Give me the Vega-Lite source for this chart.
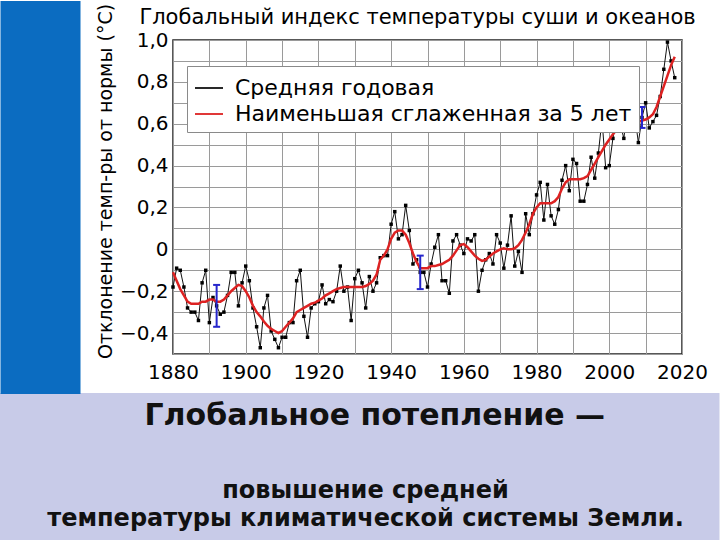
{
  "$schema": "https://vega.github.io/schema/vega-lite/v6.json",
  "width": 509,
  "height": 314,
  "autosize": {"type": "none"},
  "padding": {"left": 173, "top": 40, "right": 38, "bottom": 186},
  "background": "white",
  "config": {
    "font": "DejaVu Sans",
    "view": {"stroke": "#222222", "strokeWidth": 1.5},
    "axis": {"labelFont": "DejaVu Sans", "titleFont": "DejaVu Sans", "labelColor": "black", "titleColor": "black", "titleFontWeight": "normal"}
  },
  "datasets": {
    "annual": [
      {"year":1880,"value":-0.18,"series":"Средняя годовая"},{"year":1881,"value":-0.09,"series":"Средняя годовая"},{"year":1882,"value":-0.10,"series":"Средняя годовая"},{"year":1883,"value":-0.18,"series":"Средняя годовая"},{"year":1884,"value":-0.28,"series":"Средняя годовая"},{"year":1885,"value":-0.30,"series":"Средняя годовая"},{"year":1886,"value":-0.30,"series":"Средняя годовая"},{"year":1887,"value":-0.34,"series":"Средняя годовая"},{"year":1888,"value":-0.16,"series":"Средняя годовая"},{"year":1889,"value":-0.10,"series":"Средняя годовая"},
      {"year":1890,"value":-0.35,"series":"Средняя годовая"},{"year":1891,"value":-0.23,"series":"Средняя годовая"},{"year":1892,"value":-0.27,"series":"Средняя годовая"},{"year":1893,"value":-0.31,"series":"Средняя годовая"},{"year":1894,"value":-0.30,"series":"Средняя годовая"},{"year":1895,"value":-0.22,"series":"Средняя годовая"},{"year":1896,"value":-0.11,"series":"Средняя годовая"},{"year":1897,"value":-0.11,"series":"Средняя годовая"},{"year":1898,"value":-0.27,"series":"Средняя годовая"},{"year":1899,"value":-0.16,"series":"Средняя годовая"},
      {"year":1900,"value":-0.08,"series":"Средняя годовая"},{"year":1901,"value":-0.15,"series":"Средняя годовая"},{"year":1902,"value":-0.28,"series":"Средняя годовая"},{"year":1903,"value":-0.37,"series":"Средняя годовая"},{"year":1904,"value":-0.47,"series":"Средняя годовая"},{"year":1905,"value":-0.28,"series":"Средняя годовая"},{"year":1906,"value":-0.22,"series":"Средняя годовая"},{"year":1907,"value":-0.39,"series":"Средняя годовая"},{"year":1908,"value":-0.43,"series":"Средняя годовая"},{"year":1909,"value":-0.47,"series":"Средняя годовая"},
      {"year":1910,"value":-0.42,"series":"Средняя годовая"},{"year":1911,"value":-0.42,"series":"Средняя годовая"},{"year":1912,"value":-0.35,"series":"Средняя годовая"},{"year":1913,"value":-0.35,"series":"Средняя годовая"},{"year":1914,"value":-0.15,"series":"Средняя годовая"},{"year":1915,"value":-0.10,"series":"Средняя годовая"},{"year":1916,"value":-0.32,"series":"Средняя годовая"},{"year":1917,"value":-0.42,"series":"Средняя годовая"},{"year":1918,"value":-0.28,"series":"Средняя годовая"},{"year":1919,"value":-0.26,"series":"Средняя годовая"},
      {"year":1920,"value":-0.25,"series":"Средняя годовая"},{"year":1921,"value":-0.17,"series":"Средняя годовая"},{"year":1922,"value":-0.26,"series":"Средняя годовая"},{"year":1923,"value":-0.24,"series":"Средняя годовая"},{"year":1924,"value":-0.25,"series":"Средняя годовая"},{"year":1925,"value":-0.20,"series":"Средняя годовая"},{"year":1926,"value":-0.08,"series":"Средняя годовая"},{"year":1927,"value":-0.20,"series":"Средняя годовая"},{"year":1928,"value":-0.18,"series":"Средняя годовая"},{"year":1929,"value":-0.34,"series":"Средняя годовая"},
      {"year":1930,"value":-0.14,"series":"Средняя годовая"},{"year":1931,"value":-0.10,"series":"Средняя годовая"},{"year":1932,"value":-0.16,"series":"Средняя годовая"},{"year":1933,"value":-0.28,"series":"Средняя годовая"},{"year":1934,"value":-0.13,"series":"Средняя годовая"},{"year":1935,"value":-0.20,"series":"Средняя годовая"},{"year":1936,"value":-0.16,"series":"Средняя годовая"},{"year":1937,"value":-0.04,"series":"Средняя годовая"},{"year":1938,"value":-0.03,"series":"Средняя годовая"},{"year":1939,"value":-0.03,"series":"Средняя годовая"},
      {"year":1940,"value":0.12,"series":"Средняя годовая"},{"year":1941,"value":0.18,"series":"Средняя годовая"},{"year":1942,"value":0.05,"series":"Средняя годовая"},{"year":1943,"value":0.07,"series":"Средняя годовая"},{"year":1944,"value":0.21,"series":"Средняя годовая"},{"year":1945,"value":0.09,"series":"Средняя годовая"},{"year":1946,"value":-0.07,"series":"Средняя годовая"},{"year":1947,"value":-0.05,"series":"Средняя годовая"},{"year":1948,"value":-0.11,"series":"Средняя годовая"},{"year":1949,"value":-0.11,"series":"Средняя годовая"},
      {"year":1950,"value":-0.18,"series":"Средняя годовая"},{"year":1951,"value":-0.07,"series":"Средняя годовая"},{"year":1952,"value":0.01,"series":"Средняя годовая"},{"year":1953,"value":0.07,"series":"Средняя годовая"},{"year":1954,"value":-0.15,"series":"Средняя годовая"},{"year":1955,"value":-0.15,"series":"Средняя годовая"},{"year":1956,"value":-0.21,"series":"Средняя годовая"},{"year":1957,"value":0.04,"series":"Средняя годовая"},{"year":1958,"value":0.07,"series":"Средняя годовая"},{"year":1959,"value":0.02,"series":"Средняя годовая"},
      {"year":1960,"value":-0.02,"series":"Средняя годовая"},{"year":1961,"value":0.05,"series":"Средняя годовая"},{"year":1962,"value":0.04,"series":"Средняя годовая"},{"year":1963,"value":0.07,"series":"Средняя годовая"},{"year":1964,"value":-0.20,"series":"Средняя годовая"},{"year":1965,"value":-0.10,"series":"Средняя годовая"},{"year":1966,"value":-0.05,"series":"Средняя годовая"},{"year":1967,"value":-0.02,"series":"Средняя годовая"},{"year":1968,"value":-0.07,"series":"Средняя годовая"},{"year":1969,"value":0.07,"series":"Средняя годовая"},
      {"year":1970,"value":0.03,"series":"Средняя годовая"},{"year":1971,"value":-0.09,"series":"Средняя годовая"},{"year":1972,"value":0.02,"series":"Средняя годовая"},{"year":1973,"value":0.16,"series":"Средняя годовая"},{"year":1974,"value":-0.08,"series":"Средняя годовая"},{"year":1975,"value":-0.01,"series":"Средняя годовая"},{"year":1976,"value":-0.11,"series":"Средняя годовая"},{"year":1977,"value":0.17,"series":"Средняя годовая"},{"year":1978,"value":0.07,"series":"Средняя годовая"},{"year":1979,"value":0.17,"series":"Средняя годовая"},
      {"year":1980,"value":0.26,"series":"Средняя годовая"},{"year":1981,"value":0.32,"series":"Средняя годовая"},{"year":1982,"value":0.14,"series":"Средняя годовая"},{"year":1983,"value":0.31,"series":"Средняя годовая"},{"year":1984,"value":0.16,"series":"Средняя годовая"},{"year":1985,"value":0.12,"series":"Средняя годовая"},{"year":1986,"value":0.19,"series":"Средняя годовая"},{"year":1987,"value":0.33,"series":"Средняя годовая"},{"year":1988,"value":0.40,"series":"Средняя годовая"},{"year":1989,"value":0.28,"series":"Средняя годовая"},
      {"year":1990,"value":0.43,"series":"Средняя годовая"},{"year":1991,"value":0.41,"series":"Средняя годовая"},{"year":1992,"value":0.23,"series":"Средняя годовая"},{"year":1993,"value":0.23,"series":"Средняя годовая"},{"year":1994,"value":0.31,"series":"Средняя годовая"},{"year":1995,"value":0.44,"series":"Средняя годовая"},{"year":1996,"value":0.34,"series":"Средняя годовая"},{"year":1997,"value":0.46,"series":"Средняя годовая"},{"year":1998,"value":0.62,"series":"Средняя годовая"},{"year":1999,"value":0.39,"series":"Средняя годовая"},
      {"year":2000,"value":0.40,"series":"Средняя годовая"},{"year":2001,"value":0.53,"series":"Средняя годовая"},{"year":2002,"value":0.62,"series":"Средняя годовая"},{"year":2003,"value":0.60,"series":"Средняя годовая"},{"year":2004,"value":0.53,"series":"Средняя годовая"},{"year":2005,"value":0.67,"series":"Средняя годовая"},{"year":2006,"value":0.63,"series":"Средняя годовая"},{"year":2007,"value":0.64,"series":"Средняя годовая"},{"year":2008,"value":0.51,"series":"Средняя годовая"},{"year":2009,"value":0.63,"series":"Средняя годовая"},
      {"year":2010,"value":0.70,"series":"Средняя годовая"},{"year":2011,"value":0.58,"series":"Средняя годовая"},{"year":2012,"value":0.61,"series":"Средняя годовая"},{"year":2013,"value":0.64,"series":"Средняя годовая"},{"year":2014,"value":0.73,"series":"Средняя годовая"},{"year":2015,"value":0.86,"series":"Средняя годовая"},{"year":2016,"value":0.99,"series":"Средняя годовая"},{"year":2017,"value":0.90,"series":"Средняя годовая"},{"year":2018,"value":0.82,"series":"Средняя годовая"}
    ],
    "smooth": [
      {"year":1880,"value":-0.11,"series":"Наименьшая сглаженная за 5 лет"},{"year":1881,"value":-0.15,"series":"Наименьшая сглаженная за 5 лет"},{"year":1882,"value":-0.19,"series":"Наименьшая сглаженная за 5 лет"},{"year":1883,"value":-0.22,"series":"Наименьшая сглаженная за 5 лет"},{"year":1884,"value":-0.25,"series":"Наименьшая сглаженная за 5 лет"},{"year":1885,"value":-0.26,"series":"Наименьшая сглаженная за 5 лет"},{"year":1886,"value":-0.26,"series":"Наименьшая сглаженная за 5 лет"},{"year":1887,"value":-0.26,"series":"Наименьшая сглаженная за 5 лет"},{"year":1888,"value":-0.25,"series":"Наименьшая сглаженная за 5 лет"},{"year":1889,"value":-0.25,"series":"Наименьшая сглаженная за 5 лет"},
      {"year":1890,"value":-0.24,"series":"Наименьшая сглаженная за 5 лет"},{"year":1891,"value":-0.24,"series":"Наименьшая сглаженная за 5 лет"},{"year":1892,"value":-0.25,"series":"Наименьшая сглаженная за 5 лет"},{"year":1893,"value":-0.25,"series":"Наименьшая сглаженная за 5 лет"},{"year":1894,"value":-0.24,"series":"Наименьшая сглаженная за 5 лет"},{"year":1895,"value":-0.22,"series":"Наименьшая сглаженная за 5 лет"},{"year":1896,"value":-0.20,"series":"Наименьшая сглаженная за 5 лет"},{"year":1897,"value":-0.185,"series":"Наименьшая сглаженная за 5 лет"},{"year":1898,"value":-0.17,"series":"Наименьшая сглаженная за 5 лет"},{"year":1899,"value":-0.175,"series":"Наименьшая сглаженная за 5 лет"},
      {"year":1900,"value":-0.20,"series":"Наименьшая сглаженная за 5 лет"},{"year":1901,"value":-0.23,"series":"Наименьшая сглаженная за 5 лет"},{"year":1902,"value":-0.27,"series":"Наименьшая сглаженная за 5 лет"},{"year":1903,"value":-0.30,"series":"Наименьшая сглаженная за 5 лет"},{"year":1904,"value":-0.32,"series":"Наименьшая сглаженная за 5 лет"},{"year":1905,"value":-0.345,"series":"Наименьшая сглаженная за 5 лет"},{"year":1906,"value":-0.365,"series":"Наименьшая сглаженная за 5 лет"},{"year":1907,"value":-0.38,"series":"Наименьшая сглаженная за 5 лет"},{"year":1908,"value":-0.39,"series":"Наименьшая сглаженная за 5 лет"},{"year":1909,"value":-0.40,"series":"Наименьшая сглаженная за 5 лет"},
      {"year":1910,"value":-0.39,"series":"Наименьшая сглаженная за 5 лет"},{"year":1911,"value":-0.37,"series":"Наименьшая сглаженная за 5 лет"},{"year":1912,"value":-0.35,"series":"Наименьшая сглаженная за 5 лет"},{"year":1913,"value":-0.33,"series":"Наименьшая сглаженная за 5 лет"},{"year":1914,"value":-0.30,"series":"Наименьшая сглаженная за 5 лет"},{"year":1915,"value":-0.29,"series":"Наименьшая сглаженная за 5 лет"},{"year":1916,"value":-0.28,"series":"Наименьшая сглаженная за 5 лет"},{"year":1917,"value":-0.27,"series":"Наименьшая сглаженная за 5 лет"},{"year":1918,"value":-0.26,"series":"Наименьшая сглаженная за 5 лет"},{"year":1919,"value":-0.255,"series":"Наименьшая сглаженная за 5 лет"},
      {"year":1920,"value":-0.245,"series":"Наименьшая сглаженная за 5 лет"},{"year":1921,"value":-0.235,"series":"Наименьшая сглаженная за 5 лет"},{"year":1922,"value":-0.22,"series":"Наименьшая сглаженная за 5 лет"},{"year":1923,"value":-0.21,"series":"Наименьшая сглаженная за 5 лет"},{"year":1924,"value":-0.20,"series":"Наименьшая сглаженная за 5 лет"},{"year":1925,"value":-0.19,"series":"Наименьшая сглаженная за 5 лет"},{"year":1926,"value":-0.185,"series":"Наименьшая сглаженная за 5 лет"},{"year":1927,"value":-0.18,"series":"Наименьшая сглаженная за 5 лет"},{"year":1928,"value":-0.18,"series":"Наименьшая сглаженная за 5 лет"},{"year":1929,"value":-0.18,"series":"Наименьшая сглаженная за 5 лет"},
      {"year":1930,"value":-0.18,"series":"Наименьшая сглаженная за 5 лет"},{"year":1931,"value":-0.18,"series":"Наименьшая сглаженная за 5 лет"},{"year":1932,"value":-0.18,"series":"Наименьшая сглаженная за 5 лет"},{"year":1933,"value":-0.175,"series":"Наименьшая сглаженная за 5 лет"},{"year":1934,"value":-0.165,"series":"Наименьшая сглаженная за 5 лет"},{"year":1935,"value":-0.15,"series":"Наименьшая сглаженная за 5 лет"},{"year":1936,"value":-0.12,"series":"Наименьшая сглаженная за 5 лет"},{"year":1937,"value":-0.05,"series":"Наименьшая сглаженная за 5 лет"},{"year":1938,"value":-0.03,"series":"Наименьшая сглаженная за 5 лет"},{"year":1939,"value":0.0,"series":"Наименьшая сглаженная за 5 лет"},
      {"year":1940,"value":0.05,"series":"Наименьшая сглаженная за 5 лет"},{"year":1941,"value":0.08,"series":"Наименьшая сглаженная за 5 лет"},{"year":1942,"value":0.09,"series":"Наименьшая сглаженная за 5 лет"},{"year":1943,"value":0.09,"series":"Наименьшая сглаженная за 5 лет"},{"year":1944,"value":0.07,"series":"Наименьшая сглаженная за 5 лет"},{"year":1945,"value":0.03,"series":"Наименьшая сглаженная за 5 лет"},{"year":1946,"value":-0.02,"series":"Наименьшая сглаженная за 5 лет"},{"year":1947,"value":-0.06,"series":"Наименьшая сглаженная за 5 лет"},{"year":1948,"value":-0.09,"series":"Наименьшая сглаженная за 5 лет"},{"year":1949,"value":-0.09,"series":"Наименьшая сглаженная за 5 лет"},
      {"year":1950,"value":-0.09,"series":"Наименьшая сглаженная за 5 лет"},{"year":1951,"value":-0.08,"series":"Наименьшая сглаженная за 5 лет"},{"year":1952,"value":-0.08,"series":"Наименьшая сглаженная за 5 лет"},{"year":1953,"value":-0.075,"series":"Наименьшая сглаженная за 5 лет"},{"year":1954,"value":-0.07,"series":"Наименьшая сглаженная за 5 лет"},{"year":1955,"value":-0.06,"series":"Наименьшая сглаженная за 5 лет"},{"year":1956,"value":-0.05,"series":"Наименьшая сглаженная за 5 лет"},{"year":1957,"value":-0.03,"series":"Наименьшая сглаженная за 5 лет"},{"year":1958,"value":-0.005,"series":"Наименьшая сглаженная за 5 лет"},{"year":1959,"value":0.02,"series":"Наименьшая сглаженная за 5 лет"},
      {"year":1960,"value":0.025,"series":"Наименьшая сглаженная за 5 лет"},{"year":1961,"value":0.01,"series":"Наименьшая сглаженная за 5 лет"},{"year":1962,"value":-0.01,"series":"Наименьшая сглаженная за 5 лет"},{"year":1963,"value":-0.03,"series":"Наименьшая сглаженная за 5 лет"},{"year":1964,"value":-0.045,"series":"Наименьшая сглаженная за 5 лет"},{"year":1965,"value":-0.055,"series":"Наименьшая сглаженная за 5 лет"},{"year":1966,"value":-0.05,"series":"Наименьшая сглаженная за 5 лет"},{"year":1967,"value":-0.035,"series":"Наименьшая сглаженная за 5 лет"},{"year":1968,"value":-0.02,"series":"Наименьшая сглаженная за 5 лет"},{"year":1969,"value":-0.01,"series":"Наименьшая сглаженная за 5 лет"},
      {"year":1970,"value":0.0,"series":"Наименьшая сглаженная за 5 лет"},{"year":1971,"value":0.005,"series":"Наименьшая сглаженная за 5 лет"},{"year":1972,"value":0.0,"series":"Наименьшая сглаженная за 5 лет"},{"year":1973,"value":0.0,"series":"Наименьшая сглаженная за 5 лет"},{"year":1974,"value":0.005,"series":"Наименьшая сглаженная за 5 лет"},{"year":1975,"value":0.02,"series":"Наименьшая сглаженная за 5 лет"},{"year":1976,"value":0.045,"series":"Наименьшая сглаженная за 5 лет"},{"year":1977,"value":0.08,"series":"Наименьшая сглаженная за 5 лет"},{"year":1978,"value":0.12,"series":"Наименьшая сглаженная за 5 лет"},{"year":1979,"value":0.17,"series":"Наименьшая сглаженная за 5 лет"},
      {"year":1980,"value":0.20,"series":"Наименьшая сглаженная за 5 лет"},{"year":1981,"value":0.22,"series":"Наименьшая сглаженная за 5 лет"},{"year":1982,"value":0.22,"series":"Наименьшая сглаженная за 5 лет"},{"year":1983,"value":0.22,"series":"Наименьшая сглаженная за 5 лет"},{"year":1984,"value":0.22,"series":"Наименьшая сглаженная за 5 лет"},{"year":1985,"value":0.23,"series":"Наименьшая сглаженная за 5 лет"},{"year":1986,"value":0.25,"series":"Наименьшая сглаженная за 5 лет"},{"year":1987,"value":0.29,"series":"Наименьшая сглаженная за 5 лет"},{"year":1988,"value":0.32,"series":"Наименьшая сглаженная за 5 лет"},{"year":1989,"value":0.335,"series":"Наименьшая сглаженная за 5 лет"},
      {"year":1990,"value":0.335,"series":"Наименьшая сглаженная за 5 лет"},{"year":1991,"value":0.335,"series":"Наименьшая сглаженная за 5 лет"},{"year":1992,"value":0.335,"series":"Наименьшая сглаженная за 5 лет"},{"year":1993,"value":0.34,"series":"Наименьшая сглаженная за 5 лет"},{"year":1994,"value":0.35,"series":"Наименьшая сглаженная за 5 лет"},{"year":1995,"value":0.38,"series":"Наименьшая сглаженная за 5 лет"},{"year":1996,"value":0.41,"series":"Наименьшая сглаженная за 5 лет"},{"year":1997,"value":0.44,"series":"Наименьшая сглаженная за 5 лет"},{"year":1998,"value":0.47,"series":"Наименьшая сглаженная за 5 лет"},{"year":1999,"value":0.50,"series":"Наименьшая сглаженная за 5 лет"},
      {"year":2000,"value":0.525,"series":"Наименьшая сглаженная за 5 лет"},{"year":2001,"value":0.55,"series":"Наименьшая сглаженная за 5 лет"},{"year":2002,"value":0.57,"series":"Наименьшая сглаженная за 5 лет"},{"year":2003,"value":0.59,"series":"Наименьшая сглаженная за 5 лет"},{"year":2004,"value":0.60,"series":"Наименьшая сглаженная за 5 лет"},{"year":2005,"value":0.60,"series":"Наименьшая сглаженная за 5 лет"},{"year":2006,"value":0.60,"series":"Наименьшая сглаженная за 5 лет"},{"year":2007,"value":0.605,"series":"Наименьшая сглаженная за 5 лет"},{"year":2008,"value":0.61,"series":"Наименьшая сглаженная за 5 лет"},{"year":2009,"value":0.615,"series":"Наименьшая сглаженная за 5 лет"},
      {"year":2010,"value":0.62,"series":"Наименьшая сглаженная за 5 лет"},{"year":2011,"value":0.63,"series":"Наименьшая сглаженная за 5 лет"},{"year":2012,"value":0.645,"series":"Наименьшая сглаженная за 5 лет"},{"year":2013,"value":0.68,"series":"Наименьшая сглаженная за 5 лет"},{"year":2014,"value":0.73,"series":"Наименьшая сглаженная за 5 лет"},{"year":2015,"value":0.78,"series":"Наименьшая сглаженная за 5 лет"},{"year":2016,"value":0.83,"series":"Наименьшая сглаженная за 5 лет"},{"year":2017,"value":0.88,"series":"Наименьшая сглаженная за 5 лет"},{"year":2018,"value":0.92,"series":"Наименьшая сглаженная за 5 лет"}
    ],
    "uncertainty": [
      {"year":1892,"lo":-0.37,"hi":-0.17},
      {"year":1948,"lo":-0.19,"hi":-0.03},
      {"year":2009,"lo":0.58,"hi":0.68}
    ]
  },
  "layer": [
    {
      "data": {"name": "annual"},
      "mark": {"type": "line", "strokeWidth": 1},
      "encoding": {
        "x": {"field": "year", "type": "quantitative",
          "scale": {"domain": [1880, 2020], "nice": false, "zero": false},
          "axis": {"orient": "bottom", "values": [1880,1890,1900,1910,1920,1930,1940,1950,1960,1970,1980,1990,2000,2010,2020],
            "format": "d", "labelExpr": "datum.value % 20 == 0 ? datum.label : ''",
            "grid": true, "gridColor": "#9a9a9a", "gridWidth": 1, "gridOpacity": 1,
            "ticks": false, "domain": false, "labelFontSize": 20, "labelPadding": 8,
            "labelFlush": false, "labelOverlap": false, "title": null}},
        "y": {"field": "value", "type": "quantitative",
          "scale": {"domain": [-0.5, 1.0], "nice": false, "zero": false},
          "axis": {"orient": "left", "values": [-0.5,-0.4,-0.3,-0.2,-0.1,0,0.1,0.2,0.3,0.4,0.5,0.6,0.7,0.8,0.9,1.0],
            "format": ".1f",
            "labelExpr": "abs(round(datum.value*10)) % 2 == 1 ? '' : (abs(datum.value) < 0.001 ? '0' : replace(datum.label, '.', ','))",
            "grid": true, "gridColor": "#9a9a9a", "gridWidth": 1, "gridOpacity": 1,
            "ticks": false, "domain": false, "labelFontSize": 20, "labelPadding": 5,
            "labelFlush": false, "labelOverlap": false, "labelBound": false,
            "title": "Отклонение темп-ры от нормы (°C)", "titleFontSize": 19,
            "titleAngle": -90, "titleX": -68, "titleY": 141, "titleAlign": "center", "titleBaseline": "middle"}},
        "color": {"field": "series", "type": "nominal",
          "scale": {"domain": ["Средняя годовая", "Наименьшая сглаженная за 5 лет"], "range": ["#111111", "#dd2222"]},
          "legend": {"orient": "none", "legendX": 14, "legendY": 26, "title": null,
            "fillColor": "white", "strokeColor": "#8a8a8a", "padding": 7,
            "labelFont": "DejaVu Sans", "labelFontSize": 22, "labelColor": "black", "labelLimit": 600,
            "symbolType": "stroke", "symbolSize": 784, "symbolStrokeWidth": 1.8, "rowPadding": -4, "labelOffset": 11}}
      }
    },
    {
      "data": {"name": "annual"},
      "mark": {"type": "square", "size": 12, "color": "black", "opacity": 1},
      "encoding": {
        "x": {"field": "year", "type": "quantitative", "scale": {"domain": [1880, 2020], "nice": false, "zero": false}, "axis": null},
        "y": {"field": "value", "type": "quantitative", "scale": {"domain": [-0.5, 1.0], "nice": false, "zero": false},
          "axis": {"orient": "right", "offset": 37, "values": [-0.5], "tickOffset": 112.2,
            "ticks": true, "tickSize": -720, "tickWidth": 147, "tickColor": "#c8cbe8", "tickOpacity": 1,
            "labels": false, "domain": false, "grid": false,
            "title": ["повышение средней", "температуры климатической системы Земли."],
            "titleAngle": 0, "titleX": -354, "titleY": 457, "titleAlign": "center", "titleBaseline": "alphabetic",
            "titleFont": "DejaVu Sans", "titleFontSize": 24, "titleFontWeight": "bold", "titleLineHeight": 28, "titleColor": "#111111"}}
      }
    },
    {
      "data": {"name": "smooth"},
      "mark": {"type": "line", "strokeWidth": 2.5},
      "encoding": {
        "x": {"field": "year", "type": "quantitative", "scale": {"domain": [1880, 2020], "nice": false, "zero": false},
          "axis": {"orient": "top", "labels": false, "ticks": false, "domain": false, "grid": false,
            "title": "Глобальный индекс температуры суши и океанов", "titleFontSize": 21,
            "titleX": 244, "titleY": -22.5, "titleAlign": "center", "titleBaseline": "middle"}},
        "y": {"field": "value", "type": "quantitative", "scale": {"domain": [-0.5, 1.0], "nice": false, "zero": false},
          "axis": {"orient": "left", "offset": 93, "values": [0.2512],
            "ticks": true, "tickSize": 80, "tickWidth": 393, "tickColor": "#0b6cc1", "tickOpacity": 1,
            "labels": false, "domain": false, "grid": false,
            "title": "Глобальное потепление —", "titleAngle": 0, "titleX": 64, "titleY": 375,
            "titleAlign": "left", "titleBaseline": "middle",
            "titleFont": "DejaVu Sans", "titleFontSize": 30, "titleFontWeight": "bold", "titleColor": "#111111"}},
        "color": {"field": "series", "type": "nominal",
          "scale": {"domain": ["Средняя годовая", "Наименьшая сглаженная за 5 лет"], "range": ["#111111", "#dd2222"]}}
      }
    },
    {
      "data": {"name": "uncertainty"},
      "mark": {"type": "rule", "color": "#2626cc", "strokeWidth": 2},
      "encoding": {
        "x": {"field": "year", "type": "quantitative", "scale": {"domain": [1880, 2020], "nice": false, "zero": false}, "axis": null},
        "y": {"field": "lo", "type": "quantitative", "scale": {"domain": [-0.5, 1.0], "nice": false, "zero": false}, "axis": null},
        "y2": {"field": "hi"}
      }
    },
    {
      "data": {"name": "uncertainty"},
      "mark": {"type": "tick", "orient": "horizontal", "color": "#2626cc", "size": 7, "thickness": 2, "opacity": 1},
      "encoding": {
        "x": {"field": "year", "type": "quantitative", "scale": {"domain": [1880, 2020], "nice": false, "zero": false}, "axis": null},
        "y": {"field": "lo", "type": "quantitative", "scale": {"domain": [-0.5, 1.0], "nice": false, "zero": false}, "axis": null}
      }
    },
    {
      "data": {"name": "uncertainty"},
      "mark": {"type": "tick", "orient": "horizontal", "color": "#2626cc", "size": 7, "thickness": 2, "opacity": 1},
      "encoding": {
        "x": {"field": "year", "type": "quantitative", "scale": {"domain": [1880, 2020], "nice": false, "zero": false}, "axis": null},
        "y": {"field": "hi", "type": "quantitative", "scale": {"domain": [-0.5, 1.0], "nice": false, "zero": false}, "axis": null}
      }
    }
  ],
  "resolve": {"axis": {"x": "independent", "y": "independent"}}
}
